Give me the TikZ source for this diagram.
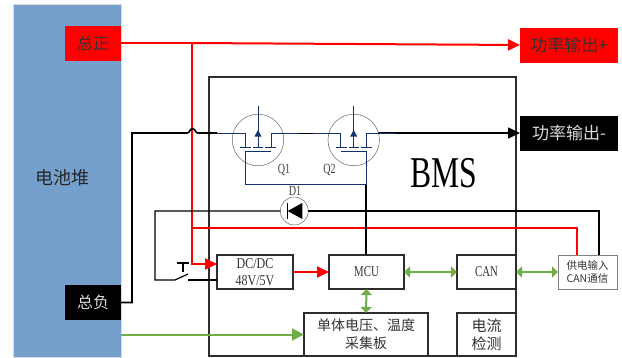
\documentclass[tikz,border=0pt]{standalone}
\usepackage{fontspec}
\setmainfont{Liberation Serif}
\newfontfamily\cjk{Noto Sans CJK SC}
\usetikzlibrary{arrows.meta,calc}
\definecolor{stackblue}{RGB}{117,160,205}
\definecolor{fetblue}{RGB}{20,50,110}
\definecolor{sigreen}{RGB}{112,173,71}
\definecolor{boxgray}{RGB}{45,45,45}
\tikzset{
  x=1pt,y=-1pt,
  box/.style={draw=boxgray,line width=1.2pt,fill=white,inner sep=0pt,outer sep=0pt,align=center,text=black!80},
  tag/.style={inner sep=0pt,outer sep=0pt,align=center},
  redwire/.style={red,line width=2pt},
  blackwire/.style={black,line width=1.6pt},
  fet/.style={fetblue,line width=1pt},
  redarrow/.style={redwire,-{Triangle[length=12pt,width=11pt]}},
  blackarrow/.style={blackwire,-{Triangle[length=12pt,width=11pt]}},
  greenarrow/.style={sigreen,line width=2pt,-{Triangle[length=12pt,width=12pt]}},
  greenboth/.style={sigreen,line width=2pt,{Triangle[length=6pt,width=11pt]}-{Triangle[length=6pt,width=11pt]}},
  ring/.style={draw=black!60,line width=.5pt,circle,inner sep=0pt,outer sep=0pt},
  latin/.style={font=\fontsize{15}{17}\selectfont},
  fetlabel/.style={tag,font=\fontsize{14}{16}\selectfont,text=black!75},
}
\newcommand{\narrow}[1]{\scalebox{.72}[1]{#1}}
\newcommand{\midnarrow}[1]{\scalebox{.8}[1]{#1}}
\begin{document}
\begin{tikzpicture}
\useasboundingbox (0,0) rectangle (622,357);
% stack and BMS frame
\node[tag,fill=stackblue,draw=black!15,line width=.5pt,minimum width=108pt,minimum height=353pt,anchor=north west] (stack) at (13,4) {};
\node[tag,font=\cjk\fontsize{18}{20}\selectfont,text=black!85] (stacklabel) at (62,178) {电池堆};
\node[draw=boxgray,line width=1.2pt,inner sep=0pt,outer sep=0pt,minimum width=307pt,minimum height=279pt,anchor=north west] (bms) at (209,77) {};
\node[tag,font=\fontsize{44}{46}\selectfont] (bmslabel) at (444,173) {\narrow{BMS}};
% terminals
\node[tag,fill=red,minimum width=56pt,minimum height=35pt,font=\cjk\fontsize{16}{18}\selectfont,text=black!80] (pos) at (93,43) {总正};
\node[tag,fill=black,minimum width=56pt,minimum height=35pt,font=\cjk\fontsize{16}{18}\selectfont,text=white!85!black] (neg) at (93,302.5) {总负};
\node[tag,fill=red,minimum width=98pt,minimum height=35pt,font=\cjk\fontsize{17}{18}\selectfont,text=black!80] (outp) at (569,45) {功率输出+};
\node[tag,fill=black,minimum width=98pt,minimum height=35pt,font=\cjk\fontsize{17}{18}\selectfont,text=white!85!black] (outn) at (569,133) {功率输出-};
% function boxes
\node[box,minimum width=76pt,minimum height=34pt,latin] (dcdc) at (255,272) {\midnarrow{DC/DC}\\\midnarrow{48V/5V}};
\node[box,minimum width=75pt,minimum height=34pt,latin] (mcu) at (366.5,272) {\narrow{MCU}};
\node[box,minimum width=59pt,minimum height=34pt,latin] (can) at (486.5,272) {\narrow{CAN}};
\node[box,minimum width=124pt,minimum height=43pt,font=\cjk\fontsize{14}{18}\selectfont] (acq) at (366,334.5) {单体电压、温度\\采集板};
\node[box,minimum width=59pt,minimum height=43pt,font=\cjk\fontsize{15}{18}\selectfont] (cur) at (486.5,334.5) {电流\\检测};
\node[box,draw=black!50,line width=.7pt,minimum width=59pt,minimum height=34pt,font=\cjk\fontsize{10.5}{13}\selectfont] (sup) at (587.5,272) {供电输入\\CAN通信};
% named points
\coordinate (q1) at (258,140);
\coordinate (q2) at (353.7,140);
\coordinate (rj) at (192,43);
\coordinate (rd) at (192,228);
\coordinate (bl) at (132,133);
\coordinate (hopa) at (187,133);
\coordinate (hopb) at (198,133);
\coordinate (swl) at (155,280);
\coordinate (swtl) at (155,211);
\coordinate (sw1) at (175,280);
\coordinate (sw2) at (188,274);
\coordinate (sw3) at (188,280);
\coordinate (tl) at (177,263);
\coordinate (tr) at (189,263);
\coordinate (tm) at (183,263);
\coordinate (tb) at (183,272);
\coordinate (qs) at (366,184);
\coordinate (qw) at (245,184);
\coordinate (thick) at (320,211);
% red wires
\draw[redwire] (pos.east) -- (rj);
\draw[redarrow] (rj) -- (outp.west);
\draw[redwire] (rj) -- (rd);
\draw[redarrow] (rd) |- ($(dcdc.west)+(0,-8)$);
\draw[redwire] (rd) -| ($(sup.north west)+(19,0)$);
\draw[redarrow] (dcdc.east) -- (mcu.west);
% black wires
\draw[blackwire] (neg.east) -| (bl) -- (hopa) .. controls (190,133) and (189.5,128.7) .. (192.5,128.7) .. controls (195.5,128.7) and (195,133) .. (hopb) -- (217,133);
\draw[blackarrow] (378,133) -- (outn.west);
\draw[blackwire,line width=1pt] (284,133) -- (328,133);
\draw[blackwire,line width=1.2pt] (qs) -- (qs |- mcu.north);
\node[ring,minimum size=28pt] (diode) at (294.3,211) {};
\draw[blackwire,line width=1.2pt] (thick) -- (diode.east);
\draw[blackwire,line width=1.2pt] (diode.west) -- (swtl) -- (swl) -- (sw1) -- (sw2);
\draw[blackwire] (thick) -| ($(sup.north west)+(41,0)$);
\draw[blackwire,line width=1.2pt] (sw3) -- ($(dcdc.west)+(0,8)$);
\draw[black,line width=1.2pt] (tl) -- (tr) (tm) -- (tb);
% diode
\fill[black] (287.7,211) -- (302.3,203) -- (302.3,219) -- cycle;
\draw[black,line width=1.2pt] (287.7,203) -- (287.7,219);
% MOSFETs
\foreach \c/\d in {q1/Q1,q2/Q2}{
  \node[ring,minimum size=51.5pt] (ring\d) at (\c) {};
  \begin{scope}[shift={(\c)}]
    \draw[fet] (-41,-7) -- (-13,-7) -- (-13,7.5);
    \draw[fet] (41,-7) -- (13,-7) -- (13,7.5);
    \draw[fet] (0,-34) -- (0,7.5);
    \fill[fetblue] (0,-10) -- (3.5,-3.5) -- (-3.5,-3.5) -- cycle;
    \draw[fet] (-18,7.5) -- (-7,7.5) (-5,7.5) -- (5,7.5) (7,7.5) -- (18,7.5);
    \draw[fet] (-13,11) -- (13,11);
  \end{scope}
}
\draw[fet] (245,151) -- (qw) -- (qs) -- (366,151);
\node[fetlabel] (q1t) at (284,170) {\narrow{Q1}};
\node[fetlabel] (q2t) at (329.5,170) {\narrow{Q2}};
\node[fetlabel] (d1t) at (295,191) {\narrow{D1}};
% signal arrows
\draw[greenarrow] (stack.east |- acq.west) -- (acq.west);
\draw[greenboth] (mcu.south) -- (acq.north);
\draw[greenboth] (mcu.east) -- (can.west);
\draw[greenboth] (can.east) -- (sup.west);
\end{tikzpicture}
\end{document}
